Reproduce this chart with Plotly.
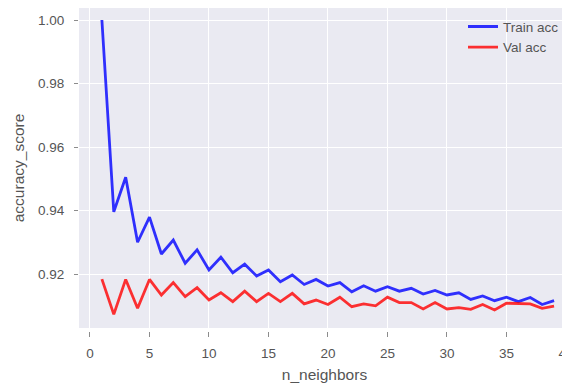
import plotly.graph_objects as go

n_neighbors = list(range(1, 40))
train_acc = [1.000, 0.9396, 0.9505, 0.9300, 0.9379, 0.9263, 0.9307, 0.9234, 0.9276, 0.9213,
             0.9253, 0.9204, 0.9231, 0.9194, 0.9213, 0.9176, 0.9197, 0.9167, 0.9183, 0.9162,
             0.9173, 0.9144, 0.9163, 0.9146, 0.9160, 0.9146, 0.9155, 0.9137, 0.9148, 0.9134,
             0.9141, 0.9120, 0.9131, 0.9116, 0.9127, 0.9113, 0.9126, 0.9104, 0.9116]
val_acc = [0.9184, 0.9073, 0.9183, 0.9092, 0.9183, 0.9134, 0.9173, 0.9129, 0.9157, 0.9118,
           0.9141, 0.9113, 0.9146, 0.9113, 0.9139, 0.9113, 0.9139, 0.9106, 0.9118, 0.9104,
           0.9127, 0.9097, 0.9106, 0.9100, 0.9127, 0.9110, 0.9110, 0.9090, 0.9110, 0.9090,
           0.9094, 0.9089, 0.9104, 0.9087, 0.9108, 0.9106, 0.9106, 0.9092, 0.9099]

x_ticks = [0, 5, 10, 15, 20, 25, 30, 35, 40]
y_ticks = [0.92, 0.94, 0.96, 0.98, 1.00]

FONT = "Liberation Sans, Arial, sans-serif"
TXT = "#262626"
TICK_TXT = "#555555"

fig = go.Figure()
fig.add_trace(go.Scatter(x=n_neighbors, y=train_acc, mode="lines", name="Train acc",
                         line=dict(color="rgba(0,0,255,0.8)", width=2.8)))
fig.add_trace(go.Scatter(x=n_neighbors, y=val_acc, mode="lines", name="Val acc",
                         line=dict(color="rgba(255,0,0,0.8)", width=2.8)))

# page body has an 8px margin, so figure coordinates are offset by 8px
fig.update_layout(
    width=570, height=385,
    margin=dict(l=71, r=8, t=0, b=62, autoexpand=False),
    paper_bgcolor="white", plot_bgcolor="#EAEAF2",
    font=dict(family=FONT, color=TXT, size=13),
    showlegend=True,
    legend=dict(x=(455 - 71) / 491, y=0.99, xanchor="left", yanchor="top",
                bgcolor="rgba(0,0,0,0)", font=dict(size=13.5, color=TICK_TXT),
                tracegroupgap=0),
)
fig.update_xaxes(
    range=[-0.924, 40.34], tickvals=x_ticks, ticktext=[str(v) for v in x_ticks],
    anchor="free", position=0, automargin=False,
    showgrid=True, gridcolor="white", gridwidth=1.3, zeroline=False,
    ticks="outside", ticklen=5, tickcolor="#8c8c8c", tickwidth=1,
    ticklabelstandoff=5,
    title=dict(text="n_neighbors", font=dict(size=15.5, color=TICK_TXT), standoff=8),
    tickfont=dict(size=13.5, color=TICK_TXT), showline=False,
)
fig.update_yaxes(
    range=[0.903, 1.00378], domain=[3 / 323, 1], automargin=False,
    tickvals=y_ticks, ticktext=["%.2f" % v for v in y_ticks],
    showgrid=True, gridcolor="white", gridwidth=1.3, zeroline=False,
    ticks="outside", ticklen=4, tickcolor="#8c8c8c", tickwidth=1,
    ticklabelstandoff=7,
    title=dict(text="accuracy_score", font=dict(size=15.5, color=TICK_TXT), standoff=9),
    tickfont=dict(size=13.5, color=TICK_TXT), showline=False,
)

fig.write_html("out.html")
